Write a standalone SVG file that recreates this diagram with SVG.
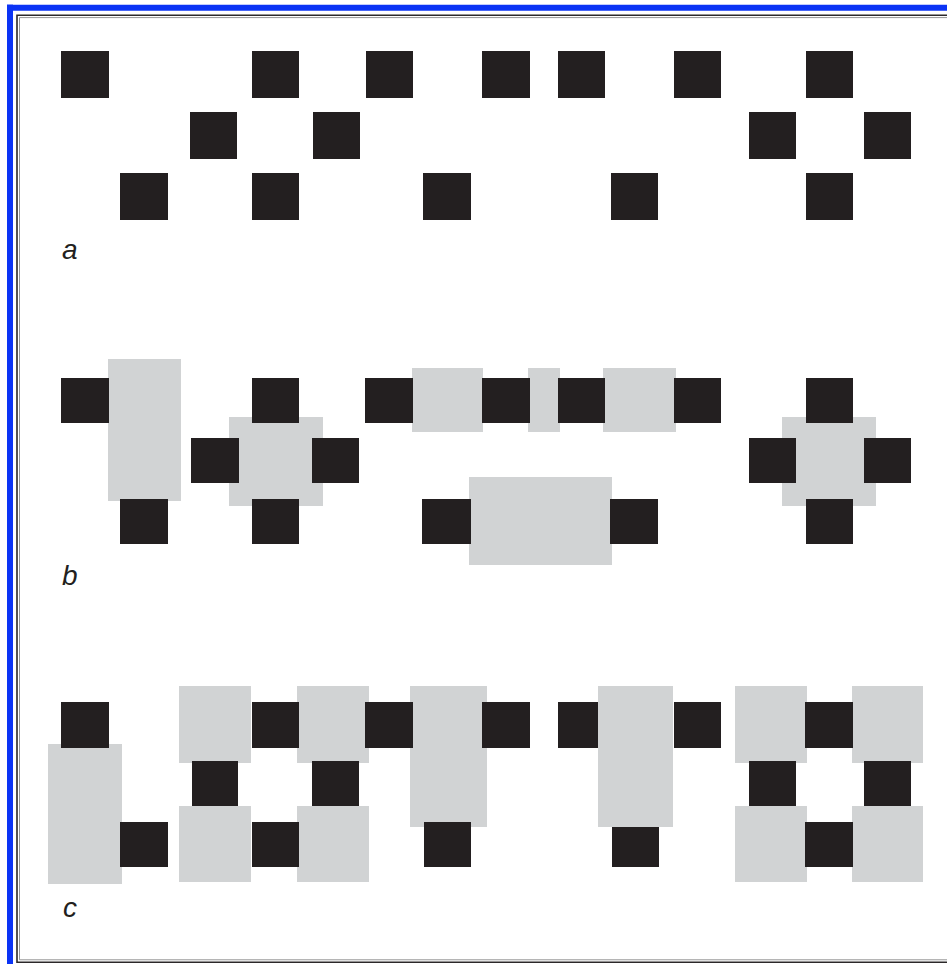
<svg xmlns="http://www.w3.org/2000/svg" width="947" height="964" viewBox="0 0 947 964">
<style>
.k{fill:#231f20}
.g{fill:#d1d3d4}
.lbl{font-family:"Liberation Sans",Arial,sans-serif;font-style:italic;font-size:28px;fill:#231f20}
</style>
<rect width="947" height="964" fill="#ffffff"/>
<g id="frame">
<path d="M7.5 7.8H947M10 4.5V964" fill="none" stroke="#0b33f5" stroke-width="6"/>
<path d="M947 15.2H17V962.2H947" fill="none" stroke="#2b2829" stroke-width="1.6"/>
<path d="M947 17.6H19.5V959.8H947" fill="none" stroke="#8a8a8a" stroke-width="0.9"/>
</g>
<g id="row-a">
<rect class="k" x="61" y="51" width="48" height="47"/>
<rect class="k" x="252" y="51" width="47" height="47"/>
<rect class="k" x="366" y="51" width="47" height="47"/>
<rect class="k" x="482" y="51" width="48" height="47"/>
<rect class="k" x="558" y="51" width="47" height="47"/>
<rect class="k" x="674" y="51" width="47" height="47"/>
<rect class="k" x="806" y="51" width="47" height="47"/>
<rect class="k" x="190" y="112" width="47" height="47"/>
<rect class="k" x="313" y="112" width="47" height="47"/>
<rect class="k" x="749" y="112" width="47" height="47"/>
<rect class="k" x="864" y="112" width="47" height="47"/>
<rect class="k" x="120" y="173" width="48" height="47"/>
<rect class="k" x="252" y="173" width="47" height="47"/>
<rect class="k" x="423" y="173" width="48" height="47"/>
<rect class="k" x="611" y="173" width="47" height="47"/>
<rect class="k" x="806" y="173" width="47" height="47"/>
<text class="lbl" x="62" y="259">a</text>
</g>
<g id="row-b">
<rect class="g" x="108" y="359" width="73" height="142"/>
<rect class="g" x="229" y="417" width="94" height="89"/>
<rect class="g" x="412" y="368" width="71" height="64"/>
<rect class="g" x="528" y="368" width="32" height="64"/>
<rect class="g" x="603" y="368" width="73" height="64"/>
<rect class="g" x="469" y="477" width="143" height="88"/>
<rect class="g" x="782" y="417" width="94" height="89"/>
<rect class="k" x="61" y="378" width="48" height="45"/>
<rect class="k" x="120" y="499" width="48" height="45"/>
<rect class="k" x="252" y="378" width="47" height="45"/>
<rect class="k" x="191" y="438" width="48" height="45"/>
<rect class="k" x="312" y="438" width="47" height="45"/>
<rect class="k" x="252" y="499" width="47" height="45"/>
<rect class="k" x="365" y="378" width="48" height="45"/>
<rect class="k" x="482" y="378" width="48" height="45"/>
<rect class="k" x="558" y="378" width="47" height="45"/>
<rect class="k" x="674" y="378" width="47" height="45"/>
<rect class="k" x="422" y="499" width="49" height="45"/>
<rect class="k" x="610" y="499" width="48" height="45"/>
<rect class="k" x="806" y="378" width="47" height="45"/>
<rect class="k" x="749" y="438" width="47" height="45"/>
<rect class="k" x="864" y="438" width="47" height="45"/>
<rect class="k" x="806" y="499" width="47" height="45"/>
<text class="lbl" x="62" y="585">b</text>
</g>
<g id="row-c">
<rect class="g" x="48" y="744" width="74" height="140"/>
<rect class="g" x="179" y="686" width="72" height="77"/>
<rect class="g" x="297" y="686" width="72" height="77"/>
<rect class="g" x="179" y="806" width="72" height="76"/>
<rect class="g" x="297" y="806" width="72" height="76"/>
<rect class="g" x="410" y="686" width="77" height="141"/>
<rect class="g" x="598" y="686" width="75" height="141"/>
<rect class="g" x="735" y="686" width="72" height="77"/>
<rect class="g" x="852" y="686" width="71" height="77"/>
<rect class="g" x="735" y="806" width="72" height="76"/>
<rect class="g" x="852" y="806" width="71" height="76"/>
<rect class="k" x="61" y="702" width="48" height="46"/>
<rect class="k" x="120" y="822" width="48" height="45"/>
<rect class="k" x="252" y="702" width="47" height="46"/>
<rect class="k" x="192" y="761" width="46" height="45"/>
<rect class="k" x="312" y="761" width="47" height="45"/>
<rect class="k" x="252" y="822" width="47" height="45"/>
<rect class="k" x="365" y="702" width="48" height="46"/>
<rect class="k" x="424" y="822" width="47" height="45"/>
<rect class="k" x="482" y="702" width="48" height="46"/>
<rect class="k" x="558" y="702" width="40" height="46"/>
<rect class="k" x="674" y="702" width="47" height="46"/>
<rect class="k" x="612" y="827" width="47" height="40"/>
<rect class="k" x="805" y="702" width="48" height="46"/>
<rect class="k" x="749" y="761" width="47" height="45"/>
<rect class="k" x="864" y="761" width="47" height="45"/>
<rect class="k" x="805" y="822" width="48" height="45"/>
<text class="lbl" x="63" y="917">c</text>
</g>
</svg>
